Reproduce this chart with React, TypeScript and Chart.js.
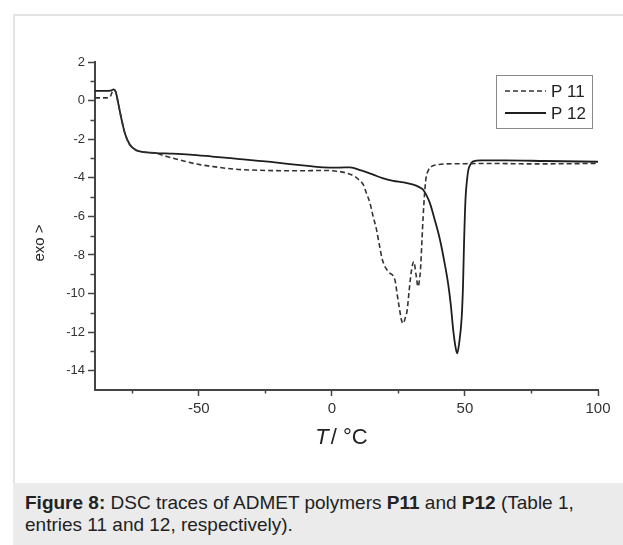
import React, { useEffect, useRef } from "react";
import { Chart, registerables } from "chart.js";

Chart.register(...registerables);

// ---- data ----
const P11_T = [-89, -86, -83.5, -82.5, -82, -81.2, -80.3, -79, -77.8, -75.9, -73.4, -69.7, -65.9, -62, -56, -49.6, -43, -37, -30, -22, -12, -3.4, 3, 6, 8.6, 10.5, 11.8, 13, 14.3, 15.5, 16.8, 18, 19, 21.2, 23.7, 24.5, 25.3, 26.2, 26.8, 27.5, 28.3, 29, 29.6, 30.3, 30.8, 31.6, 32.4, 33, 33.3, 33.8, 34.3, 34.8, 35.3, 36.3, 37.5, 40, 41.9, 50, 60, 75, 90, 100];
const P11_Y = [0.14, 0.14, 0.16, 0.45, 0.56, 0.45, -0.12, -0.99, -1.68, -2.29, -2.58, -2.68, -2.74, -2.9, -3.12, -3.32, -3.45, -3.55, -3.6, -3.63, -3.64, -3.62, -3.68, -3.78, -3.93, -4.15, -4.36, -4.8, -5.3, -6.0, -6.7, -7.6, -8.26, -8.87, -9.3, -10.0, -10.7, -11.4, -11.55, -11.3, -10.86, -9.9, -9.13, -8.5, -8.35, -9.0, -9.64, -9.2, -8.78, -7.4, -6.0, -4.9, -4.1, -3.6, -3.41, -3.32, -3.29, -3.27, -3.26, -3.28, -3.27, -3.25];

const P12_T = [-89, -86, -83, -82, -81.2, -80.3, -79, -77.8, -75.9, -73.4, -69.7, -65.9, -60, -53.4, -45, -34.6, -25, -15.8, -8, -3.3, 3, 6.8, 11, 15.5, 19, 23, 27, 30.6, 33, 34.3, 36.8, 38.7, 40.6, 42.2, 43.7, 44.7, 45.6, 46.5, 47.1, 47.8, 48.8, 49.3, 49.6, 50.2, 50.8, 51.3, 52.2, 53.1, 56, 65, 80, 100];
const P12_Y = [0.5, 0.5, 0.52, 0.58, 0.45, -0.12, -0.99, -1.68, -2.29, -2.58, -2.68, -2.72, -2.75, -2.8, -2.9, -3.03, -3.15, -3.29, -3.4, -3.46, -3.47, -3.46, -3.62, -3.84, -4.02, -4.16, -4.24, -4.36, -4.5, -4.62, -5.3, -6.2, -7.2, -8.3, -9.5, -10.6, -11.9, -12.8, -13.1, -12.6, -11.2, -9.5, -7.74, -5.14, -4.1, -3.58, -3.28, -3.15, -3.1, -3.1, -3.13, -3.17];

const SERIES_LABELS = ["P 11", "P 12"];
const X_TICKS = [-50, 0, 50, 100];
const X_MINOR = [-75, -25, 25, 75];
const Y_TICKS = [-14, -12, -10, -8, -6, -4, -2, 0, 2];
const Y_MINOR = [-13, -11, -9, -7, -5, -3, -1, 1];
const X_MIN = -89;
const X_MAX = 100;
const Y_MIN = -15;
const Y_MAX = 2;

const FONT = '"Liberation Sans", Arial, sans-serif';
const AXIS_COLOR = "#444";

const decor = {
  id: "decor",
  afterDraw(chart: any) {
    const { ctx, chartArea, scales } = chart;
    const x = scales.x;
    const y = scales.y;
    ctx.save();
    // minor ticks
    ctx.strokeStyle = AXIS_COLOR;
    ctx.lineWidth = 1.5;
    X_MINOR.forEach((v) => {
      const px = Math.round(x.getPixelForValue(v)) + 0.5;
      ctx.beginPath();
      ctx.moveTo(px, chartArea.bottom);
      ctx.lineTo(px, chartArea.bottom + 3.5);
      ctx.stroke();
    });
    Y_MINOR.forEach((v) => {
      const py = Math.round(y.getPixelForValue(v)) + 0.5;
      ctx.beginPath();
      ctx.moveTo(chartArea.left, py);
      ctx.lineTo(chartArea.left - 4.5, py);
      ctx.stroke();
    });

    // y title
    ctx.fillStyle = "#222";
    ctx.font = `15px ${FONT}`;
    ctx.save();
    ctx.translate(40, 243);
    ctx.rotate(-Math.PI / 2);
    ctx.textAlign = "center";
    ctx.textBaseline = "middle";
    ctx.fillText("exo >", 0, 0);
    ctx.restore();

    // x title: italic T + "/ °C"
    const cx = (chartArea.left + chartArea.right) / 2 - 5;
    const ty = 438;
    ctx.textBaseline = "middle";
    ctx.textAlign = "left";
    ctx.font = `italic 22px ${FONT}`;
    const wT = ctx.measureText("T").width;
    ctx.font = `22px ${FONT}`;
    const rest = "/ °C";
    const wR = ctx.measureText(rest).width;
    const gap = 2;
    const start = cx - (wT + gap + wR) / 2;
    ctx.font = `italic 22px ${FONT}`;
    ctx.fillText("T", start, ty);
    ctx.font = `22px ${FONT}`;
    ctx.fillText(rest, start + wT + gap, ty);

    // legend
    ctx.strokeStyle = "#8a8a8a";
    ctx.lineWidth = 1;
    ctx.strokeRect(496.5, 75.5, 96, 53);
    const rows = [91, 113];
    chart.data.datasets.forEach((ds: any, i: number) => {
      ctx.strokeStyle = ds.borderColor;
      ctx.lineWidth = ds.borderWidth;
      ctx.setLineDash(ds.borderDash || []);
      ctx.beginPath();
      ctx.moveTo(505, rows[i]);
      ctx.lineTo(546, rows[i]);
      ctx.stroke();
      ctx.setLineDash([]);
      ctx.fillStyle = "#222";
      ctx.font = `17px ${FONT}`;
      ctx.textAlign = "left";
      ctx.textBaseline = "middle";
      ctx.fillText(ds.label, 551, rows[i] + 1);
    });
    ctx.restore();
  },
};

export default function App() {
  const ref = useRef<HTMLCanvasElement | null>(null);

  useEffect(() => {
    if (!ref.current) return;
    const chart = new Chart(ref.current, {
      type: "line",
      data: {
        datasets: [
          {
            label: SERIES_LABELS[0],
            data: P11_T.map((t, i) => ({ x: t, y: P11_Y[i] })),
            borderColor: "#333",
            borderWidth: 1.6,
            borderDash: [5, 3],
            pointRadius: 0,
            fill: false,
            tension: 0.4,
            cubicInterpolationMode: "monotone",
          },
          {
            label: SERIES_LABELS[1],
            data: P12_T.map((t, i) => ({ x: t, y: P12_Y[i] })),
            borderColor: "#1e1e1e",
            borderWidth: 1.8,
            pointRadius: 0,
            fill: false,
            tension: 0.4,
            cubicInterpolationMode: "monotone",
          },
        ],
      },
      options: {
        animation: false,
        responsive: false,
        devicePixelRatio: 1,
        layout: { padding: { top: 62, right: 25, left: 0, bottom: 0 } },
        plugins: {
          legend: { display: false },
          tooltip: { enabled: false },
        },
        scales: {
          x: {
            type: "linear",
            min: X_MIN,
            max: X_MAX,
            afterBuildTicks: (s: any) => {
              s.ticks = X_TICKS.map((v) => ({ value: v }));
            },
            afterFit: (s: any) => {
              s.height = 93;
            },
            border: { display: true, color: AXIS_COLOR, width: 2 },
            grid: {
              drawOnChartArea: false,
              drawTicks: true,
              tickLength: 6,
              tickColor: AXIS_COLOR,
              tickWidth: 1.5,
            },
            ticks: {
              color: "#333",
              font: { family: FONT, size: 15 },
              padding: 4,
              maxRotation: 0,
              callback: (v: any) => String(v),
            },
          },
          y: {
            type: "linear",
            min: Y_MIN,
            max: Y_MAX,
            afterBuildTicks: (s: any) => {
              s.ticks = Y_TICKS.map((v) => ({ value: v }));
            },
            afterFit: (s: any) => {
              s.width = 95;
            },
            border: { display: true, color: AXIS_COLOR, width: 2 },
            grid: {
              drawOnChartArea: false,
              drawTicks: true,
              tickLength: 7,
              tickColor: AXIS_COLOR,
              tickWidth: 1.5,
            },
            ticks: {
              color: "#333",
              font: { family: FONT, size: 13 },
              padding: 3,
              callback: (v: any) => String(v),
            },
          },
        },
      },
      plugins: [decor],
    } as any);
    return () => chart.destroy();
  }, []);

  return (
    <div
      style={{
        position: "absolute",
        left: 0,
        top: 0,
        width: 623,
        height: 545,
        overflow: "hidden",
        background: "#fff",
      }}
    >
      <div
        style={{
          position: "absolute",
          left: 13,
          top: 14,
          width: 640,
          height: 560,
          border: "2px solid #e4e4e4",
          boxSizing: "border-box",
        }}
      />
      <canvas
        ref={ref}
        width={623}
        height={483}
        style={{ position: "absolute", left: 0, top: 0, width: 623, height: 483 }}
      />
      <div
        style={{
          position: "absolute",
          left: 13,
          top: 483,
          width: 620,
          height: 70,
          background: "#ebebeb",
          boxSizing: "border-box",
          padding: "9px 0 0 12px",
          fontFamily: FONT,
          fontSize: 19,
          lineHeight: "22px",
          color: "#222",
        }}
      >
        <b>Figure 8:</b> DSC traces of ADMET polymers <b>P11</b> and <b>P12</b> (Table 1,
        <br />
        entries 11 and 12, respectively).
      </div>
    </div>
  );
}
